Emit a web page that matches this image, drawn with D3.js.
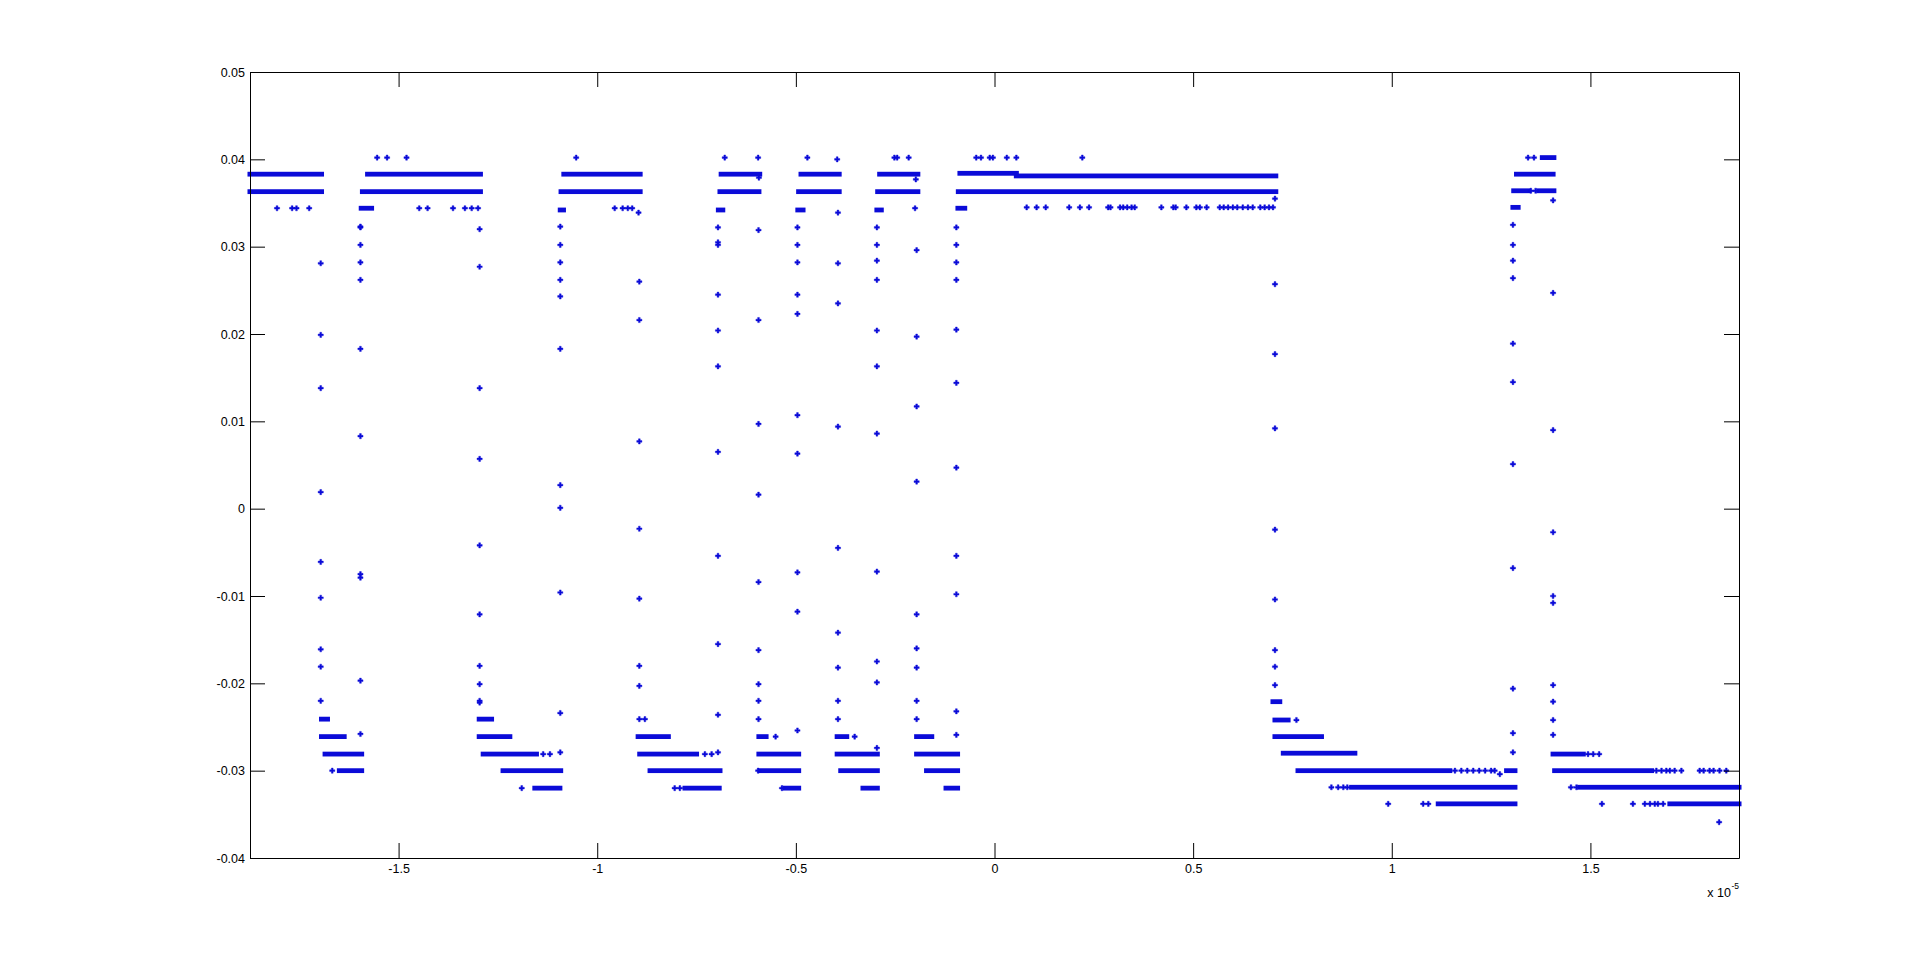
<!DOCTYPE html>
<html>
<head>
<meta charset="utf-8">
<script src="https://cdn.jsdelivr.net/npm/d3@7"></script>
<style>
html,body{margin:0;padding:0;background:#ffffff;}
svg{display:block;}
</style>
</head>
<body>
<svg id="chart" width="1921" height="964"></svg>
<script>
// ---------------- DATA (x in units of 1e-5, y in signal units) ----------------
const xDomain = [-1.874, 1.874];
const yDomain = [-0.04, 0.05];
const xTicks = [-1.5, -1, -0.5, 0, 0.5, 1, 1.5];
const yTicks = [-0.04, -0.03, -0.02, -0.01, 0, 0.01, 0.02, 0.03, 0.04, 0.05];
const xExponent = "-5";

// dense runs of samples sitting on one quantisation level: [xStart, xEnd, level]
const highRuns = [
  [-1.874, -1.694, 0.0383], [-1.874, -1.694, 0.0363],
  [-1.578, -1.294, 0.0383], [-1.591, -1.294, 0.0363], [-1.594, -1.568, 0.0344],
  [-1.084, -0.892, 0.0383], [-1.091, -0.892, 0.0363], [-1.093, -1.085, 0.0342],
  [-0.688, -0.591, 0.0383], [-0.691, -0.593, 0.0363], [-0.695, -0.684, 0.0342],
  [-0.487, -0.391, 0.0383], [-0.493, -0.391, 0.0363], [-0.495, -0.482, 0.0342],
  [-0.289, -0.193, 0.0383], [-0.294, -0.193, 0.0363], [-0.296, -0.285, 0.0342],
  [-0.087, 0.055, 0.0384], [0.055, 0.708, 0.0381], [-0.091, 0.708, 0.0363], [-0.092, -0.075, 0.0344],
  [1.314, 1.406, 0.0383], [1.307, 1.345, 0.0364], [1.370, 1.408, 0.0364], [1.379, 1.408, 0.0402], [1.305, 1.318, 0.0345]
];
const lowRuns = [
  [-1.694, -1.679, -0.0241], [-1.694, -1.637, -0.0261], [-1.685, -1.593, -0.0281], [-1.649, -1.593, -0.0300],
  [-1.297, -1.266, -0.0241], [-1.297, -1.220, -0.0261], [-1.287, -1.153, -0.0281], [-1.237, -1.092, -0.0300], [-1.157, -1.094, -0.0320],
  [-0.897, -0.821, -0.0261], [-0.893, -0.750, -0.0281], [-0.867, -0.691, -0.0300], [-0.779, -0.693, -0.0320],
  [-0.593, -0.575, -0.0261], [-0.593, -0.493, -0.0281], [-0.590, -0.493, -0.0300], [-0.527, -0.493, -0.0320],
  [-0.396, -0.372, -0.0261], [-0.396, -0.295, -0.0281], [-0.387, -0.295, -0.0300], [-0.331, -0.295, -0.0320],
  [-0.196, -0.158, -0.0261], [-0.196, -0.093, -0.0281], [-0.171, -0.093, -0.0300], [-0.122, -0.093, -0.0320],
  [0.701, 0.718, -0.0221], [0.706, 0.739, -0.0242], [0.706, 0.823, -0.0261], [0.727, 0.907, -0.0280],
  [0.764, 1.146, -0.0300], [1.289, 1.310, -0.0300], [0.899, 1.310, -0.0319], [1.117, 1.310, -0.0338],
  [1.406, 1.482, -0.0281], [1.410, 1.654, -0.0300], [1.473, 1.874, -0.0319], [1.700, 1.874, -0.0338]
];

// isolated samples near the high levels: [x, y]
const highDots = [
  [-1.806, 0.0344], [-1.768, 0.0344], [-1.757, 0.0344], [-1.725, 0.0344],
  [-1.554, 0.0402], [-1.529, 0.0402], [-1.480, 0.0402],
  [-1.448, 0.0344], [-1.427, 0.0344], [-1.363, 0.0344], [-1.333, 0.0344], [-1.316, 0.0344], [-1.300, 0.0344],
  [-1.053, 0.0402], [-0.956, 0.0344], [-0.936, 0.0344], [-0.923, 0.0344], [-0.912, 0.0344], [-0.896, 0.0339],
  [-0.679, 0.0402], [-0.593, 0.0379], [-0.595, 0.0402],
  [-0.471, 0.0402], [-0.396, 0.0400],
  [-0.252, 0.0402], [-0.245, 0.0402], [-0.216, 0.0402], [-0.198, 0.0377], [-0.200, 0.0344],
  [-0.046, 0.0402], [-0.034, 0.0402], [-0.012, 0.0402], [-0.004, 0.0402], [0.031, 0.0402], [0.055, 0.0402], [0.221, 0.0402],
  [0.081, 0.0345], [0.106, 0.0345], [0.129, 0.0345], [0.188, 0.0345], [0.215, 0.0345], [0.238, 0.0345],
  [0.286, 0.0345], [0.292, 0.0345], [0.316, 0.0345], [0.324, 0.0345], [0.334, 0.0345], [0.345, 0.0345], [0.353, 0.0345],
  [0.420, 0.0345], [0.450, 0.0345], [0.456, 0.0345], [0.483, 0.0345], [0.508, 0.0345], [0.517, 0.0345], [0.534, 0.0345],
  [0.567, 0.0345], [0.577, 0.0345], [0.588, 0.0345], [0.600, 0.0345], [0.611, 0.0345], [0.625, 0.0345], [0.638, 0.0345],
  [0.650, 0.0345], [0.669, 0.0345], [0.680, 0.0345], [0.691, 0.0345], [0.701, 0.0345],
  [1.343, 0.0402], [1.358, 0.0402], [1.350, 0.0364], [1.362, 0.0364]
];

// isolated samples near the low levels: [x, y]
const lowDots = [
  [-1.667, -0.0300],
  [-1.136, -0.0281], [-1.119, -0.0281], [-1.190, -0.0320],
  [-0.729, -0.0281], [-0.712, -0.0281], [-0.805, -0.0320], [-0.792, -0.0320], [-0.880, -0.0241],
  [-0.551, -0.0261], [-0.535, -0.0320], [-0.595, -0.0300],
  [-0.352, -0.0261],
  [0.760, -0.0242], [0.848, -0.0319], [0.865, -0.0319], [0.878, -0.0319], [0.888, -0.0319],
  [0.991, -0.0338], [1.079, -0.0338], [1.092, -0.0338],
  [1.159, -0.0300], [1.175, -0.0300], [1.190, -0.0300], [1.205, -0.0300], [1.220, -0.0300], [1.235, -0.0300],
  [1.250, -0.0300], [1.259, -0.0300], [1.272, -0.0304],
  [1.494, -0.0281], [1.507, -0.0281], [1.522, -0.0281],
  [1.666, -0.0300], [1.679, -0.0300], [1.691, -0.0300], [1.700, -0.0300], [1.712, -0.0300], [1.729, -0.0300],
  [1.775, -0.0300], [1.785, -0.0300], [1.800, -0.0300], [1.810, -0.0300], [1.825, -0.0300], [1.842, -0.0300],
  [1.451, -0.0319], [1.465, -0.0319],
  [1.529, -0.0338], [1.607, -0.0338], [1.637, -0.0338], [1.650, -0.0338], [1.662, -0.0338], [1.670, -0.0338], [1.683, -0.0338],
  [1.824, -0.0359]
];

// samples caught on the switching edges
const edgeX = [-1.696, -1.596, -1.296, -1.093, -0.894, -0.696, -0.594, -0.496, -0.394, -0.296, -0.196, -0.096, 0.706, 1.305, 1.406];
const edgeY = [
  [0.0281, 0.0199, 0.0138, 0.0019, -0.0061, -0.0102, -0.0161, -0.0181, -0.0220],
  [-0.0258, -0.0197, -0.0075, -0.0079, 0.0083, 0.0183, 0.0262, 0.0282, 0.0302, 0.0322, 0.0323],
  [0.0320, 0.0277, 0.0138, 0.0057, -0.0042, -0.0121, -0.0180, -0.0201, -0.0220, -0.0222],
  [-0.0279, -0.0234, -0.0096, 0.0001, 0.0027, 0.0183, 0.0243, 0.0262, 0.0282, 0.0302, 0.0323],
  [0.0260, 0.0216, 0.0077, -0.0023, -0.0103, -0.0180, -0.0203, -0.0241],
  [-0.0279, -0.0236, -0.0155, -0.0054, 0.0065, 0.0163, 0.0204, 0.0245, 0.0302, 0.0305, 0.0322],
  [0.0319, 0.0216, 0.0097, 0.0016, -0.0084, -0.0162, -0.0201, -0.0220, -0.0241],
  [-0.0254, -0.0118, -0.0073, 0.0063, 0.0107, 0.0223, 0.0245, 0.0282, 0.0302, 0.0322],
  [0.0339, 0.0281, 0.0235, 0.0094, -0.0045, -0.0142, -0.0182, -0.0220, -0.0241],
  [-0.0274, -0.0199, -0.0175, -0.0072, 0.0086, 0.0163, 0.0204, 0.0262, 0.0284, 0.0302, 0.0322],
  [0.0296, 0.0197, 0.0117, 0.0031, -0.0121, -0.0160, -0.0182, -0.0220, -0.0241],
  [-0.0259, -0.0232, -0.0098, -0.0054, 0.0047, 0.0144, 0.0205, 0.0262, 0.0282, 0.0302, 0.0322],
  [0.0355, 0.0257, 0.0177, 0.0092, -0.0024, -0.0104, -0.0162, -0.0181, -0.0202],
  [-0.0279, -0.0257, -0.0206, -0.0068, 0.0051, 0.0145, 0.0189, 0.0264, 0.0284, 0.0302, 0.0325],
  [0.0353, 0.0247, 0.0090, -0.0027, -0.0100, -0.0108, -0.0202, -0.0221, -0.0242, -0.0259]
];

// ---------------- DRAWING ----------------
const MARK = "#0b0bd8";
const FONT = "'Liberation Sans', Arial, Helvetica, sans-serif";
const plot = {left: 250, top: 72, right: 1739, bottom: 858};
const TICK = 15;

const svg = d3.select("#chart");
svg.append("rect").attr("width", 1921).attr("height", 964).attr("fill", "#ffffff");

const x = d3.scaleLinear().domain(xDomain).range([plot.left, plot.right]);
const y = d3.scaleLinear().domain(yDomain).range([plot.bottom, plot.top]);

const data = svg.append("g").attr("class", "data");

const runs = highRuns.concat(lowRuns);
data.selectAll("rect.run").data(runs).join("rect")
  .attr("class", "run")
  .attr("x", d => x(d[0]) - 2.5)
  .attr("width", d => Math.max(0, x(d[1]) - x(d[0])) + 5)
  .attr("y", d => y(d[2]) - 2.4)
  .attr("height", 4.8)
  .attr("fill", MARK);

const edgePts = [];
edgeX.forEach((ex, i) => edgeY[i].forEach(ey => edgePts.push([ex, ey])));
const allDots = highDots.concat(lowDots, edgePts);

const sym = d3.symbol().type(d3.symbolCross).size(15);
data.selectAll("path.pt").data(allDots).join("path")
  .attr("class", "pt")
  .attr("d", sym)
  .attr("transform", d => `translate(${x(d[0])},${y(d[1])})`)
  .attr("fill", MARK)
  .attr("stroke", MARK)
  .attr("stroke-width", 0.4);

// axes (MATLAB style: boxed, ticks pointing inward on all four sides)
function styleAxis(g) {
  g.attr("font-size", 12.5).attr("font-family", FONT);
  g.selectAll("path.domain").attr("stroke", "#000").attr("stroke-width", 1);
  g.selectAll(".tick line").attr("stroke", "#000").attr("stroke-width", 1);
  g.selectAll(".tick text").attr("fill", "#000");
}

svg.append("g").attr("transform", `translate(0,${plot.bottom})`)
  .call(d3.axisBottom(x).tickValues(xTicks).tickSize(-TICK).tickSizeOuter(0).tickPadding(6.5).tickFormat(d => String(d)))
  .call(styleAxis);
svg.append("g").attr("transform", `translate(0,${plot.top})`)
  .call(d3.axisTop(x).tickValues(xTicks).tickSize(-TICK).tickSizeOuter(0).tickFormat(""))
  .call(styleAxis);
svg.append("g").attr("transform", `translate(${plot.left},0)`)
  .call(d3.axisLeft(y).tickValues(yTicks).tickSize(-TICK).tickSizeOuter(0).tickPadding(5).tickFormat(d => String(+d.toFixed(2))))
  .call(styleAxis);
svg.append("g").attr("transform", `translate(${plot.right},0)`)
  .call(d3.axisRight(y).tickValues(yTicks).tickSize(-TICK).tickSizeOuter(0).tickFormat(""))
  .call(styleAxis);

// exponent label "x 10^-5"
svg.append("text")
  .attr("x", plot.right - 8).attr("y", 897)
  .attr("text-anchor", "end")
  .attr("font-family", FONT).attr("font-size", 12.5).attr("fill", "#000")
  .text("x 10");
svg.append("text")
  .attr("x", plot.right - 7.5).attr("y", 889)
  .attr("text-anchor", "start")
  .attr("font-family", FONT).attr("font-size", 8.5).attr("fill", "#000")
  .text(xExponent);
</script>
</body>
</html>
